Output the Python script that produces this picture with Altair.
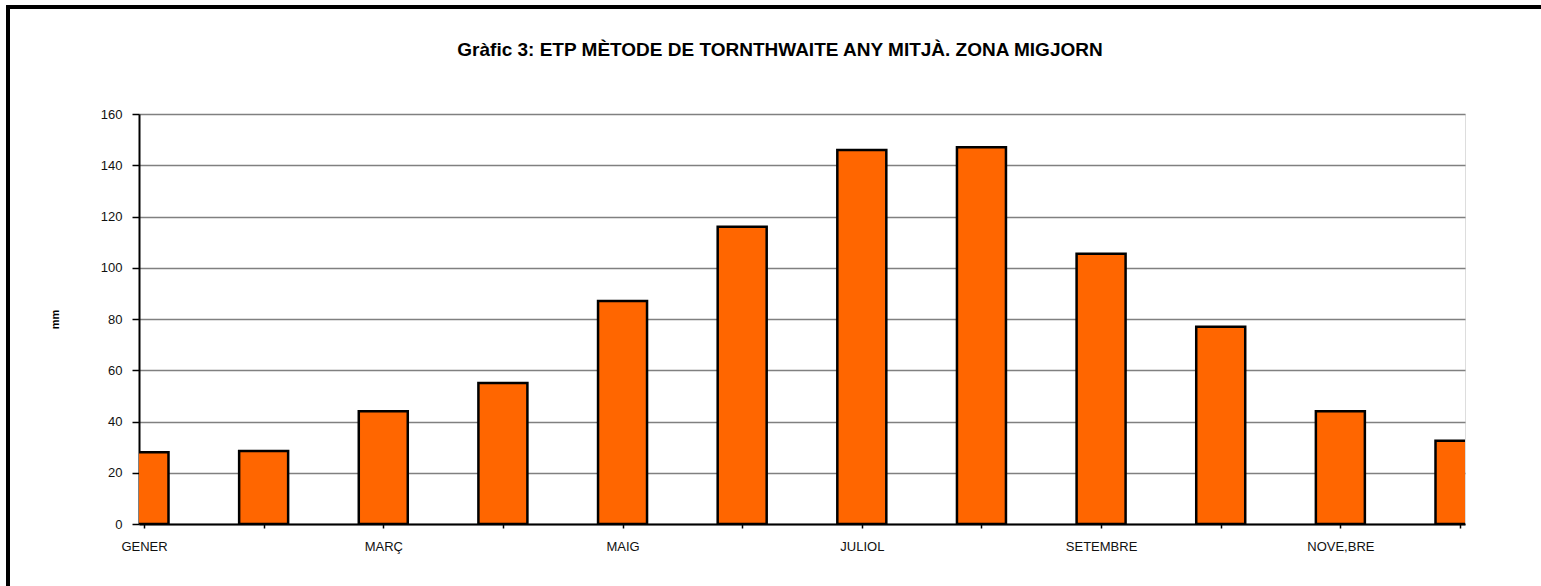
import altair as alt
import pandas as pd

# ---- data ----
month_index = [1, 2, 3, 4, 5, 6, 7, 8, 9, 10, 11, 12]
month_names = ["GENER", "FEBRER", "MARÇ", "ABRIL", "MAIG", "JUNY",
               "JULIOL", "AGOST", "SETEMBRE", "OCTUBRE", "NOVE,BRE", "DESEMBRE"]
etp_mm = [28, 28.5, 44, 55, 87, 116, 146, 147, 105.5, 77, 44, 32.5]
y_ticks = [0, 20, 40, 60, 80, 100, 120, 140, 160]

df = pd.DataFrame({"m": month_index, "name": month_names, "etp": etp_mm})

names_js = "[" + ",".join("'" + n + "'" for n in month_names) + "]"
label_expr = f"datum.value % 2 == 1 ? {names_js}[datum.value - 1] : ''"

FONT = "Liberation Sans"

bars = alt.Chart(df).mark_bar(
    size=49, color="#FF6600", stroke="black", strokeWidth=2.5, clip=True
).encode(
    x=alt.X("m:Q",
            scale=alt.Scale(domain=[1, 12], nice=False, zero=False),
            axis=alt.Axis(values=month_index, labelExpr=label_expr, title=None,
                          grid=False, tickSize=4, tickColor="black", tickWidth=1.5,
                          domainColor="black", domainWidth=2,
                          labelFont=FONT, labelFontSize=13, labelColor="#111111",
                          labelPadding=12, labelFlush=False)),
    y=alt.Y("etp:Q",
            scale=alt.Scale(domain=[0, 160], nice=False),
            axis=alt.Axis(values=y_ticks, title="mm", titleFont=FONT,
                          titleFontSize=11, titleFontWeight="bold",
                          titleColor="black", titlePadding=40,
                          grid=True, gridColor="#808080", gridWidth=1.5,
                          tickSize=7, tickColor="black", tickWidth=1.5,
                          domainColor="black", domainWidth=2,
                          labelFont=FONT, labelFontSize=13, labelColor="#111111",
                          labelPadding=10)),
)

frame = alt.Chart(df).mark_rect(
    fillOpacity=0, stroke="black", strokeWidth=3, clip=False
).encode(
    x=alt.value(-131), x2=alt.value(1430),
    y=alt.value(-107), y2=alt.value(500),
)

chart = alt.layer(bars, frame).properties(
    width=1326, height=410,
    padding={"left": 139, "top": 114, "right": 76, "bottom": 62},
    autosize=alt.AutoSizeParams(type="none"),
    title=alt.TitleParams(
        "Gràfic 3: ETP MÈTODE DE TORNTHWAITE ANY MITJÀ.  ZONA MIGJORN",
        font=FONT, fontSize=19, fontWeight="bold", color="black",
        anchor="middle", dx=-22, offset=-54),
).configure_view(stroke="#808080", strokeWidth=2).configure(background="white")

chart.save("out.html", embed_options={"renderer": "svg", "actions": False})
